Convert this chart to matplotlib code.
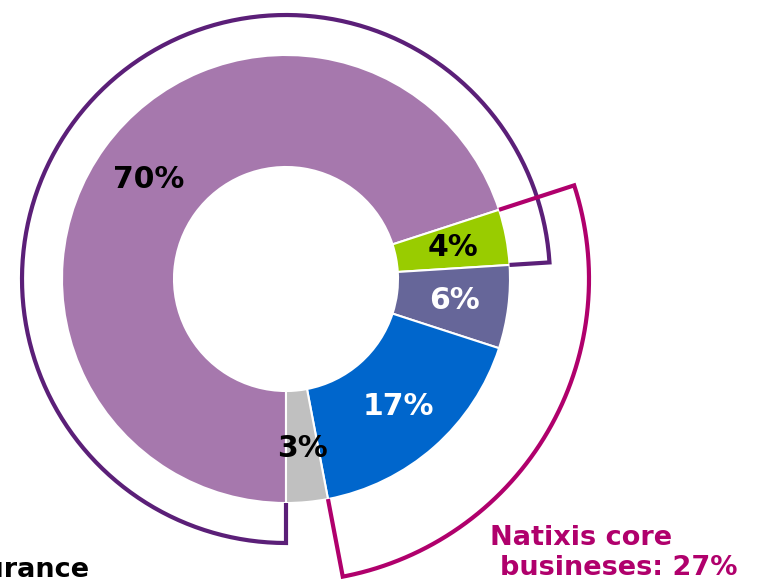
import numpy as np
import matplotlib
matplotlib.use("Agg")
import matplotlib.pyplot as plt

# Data
labels = ["70%", "4%", "6%", "17%", "3%"]
values = [70, 4, 6, 17, 3]
colors = ["#A678AD", "#99CC00", "#666699", "#0066CC", "#C0C0C0"]
label_colors = ["black", "black", "white", "white", "black"]
group_insurance = [0, 1]        # slices enclosed by the purple outline
group_core = [1, 2, 3]          # slices enclosed by the magenta outline
core_text_1 = "Natixis core"
core_text_2 = "busineses: 27%"
insurance_text = "Insurance"

W, H = 758, 579
fig = plt.figure(figsize=(W / 100, H / 100), dpi=100)
ax = fig.add_axes([0, 0, 1, 1])

cx, cy = 286, H - 279
R = 224
width = 112

wedges, _ = ax.pie(values, colors=colors, startangle=-90, counterclock=False,
                   radius=R, center=(cx, cy), frame=True,
                   wedgeprops=dict(width=width, edgecolor="white", linewidth=1.5))
ax.set_xlim(0, W)
ax.set_ylim(0, H)
ax.set_aspect("equal")
ax.axis("off")

rmid = R - width / 2 + 2
for w, lab, lc in zip(wedges, labels, label_colors):
    a = np.deg2rad((w.theta1 + w.theta2) / 2)
    ax.text(cx + rmid * np.cos(a), cy + rmid * np.sin(a), lab, ha="center", va="center",
            fontsize=21.5, fontweight="bold", color=lc)


def outline(indices, r_out, color):
    t_start = max(wedges[i].theta2 for i in indices)
    t_end = min(wedges[i].theta1 for i in indices)
    th = np.deg2rad(np.linspace(t_start, t_end, 400))
    xs = np.concatenate([[cx + R * np.cos(th[0])], cx + r_out * np.cos(th), [cx + R * np.cos(th[-1])]])
    ys = np.concatenate([[cy + R * np.sin(th[0])], cy + r_out * np.sin(th), [cy + R * np.sin(th[-1])]])
    ax.plot(xs, ys, color=color, lw=3.0, solid_joinstyle="miter", solid_capstyle="butt")


outline(group_insurance, 264, "#5B1F78")
outline(group_core, 303, "#B0006C")

ax.text(490, H - 545, core_text_1, ha="left", va="baseline", fontsize=19.5,
        fontweight="bold", color="#B0006C")
ax.text(500, H - 575, core_text_2, ha="left", va="baseline", fontsize=19.5,
        fontweight="bold", color="#B0006C")
ax.text(90, H - 577, insurance_text, ha="right", va="baseline", fontsize=19.5,
        fontweight="bold", color="black")

fig.savefig("out.png", dpi=100)
